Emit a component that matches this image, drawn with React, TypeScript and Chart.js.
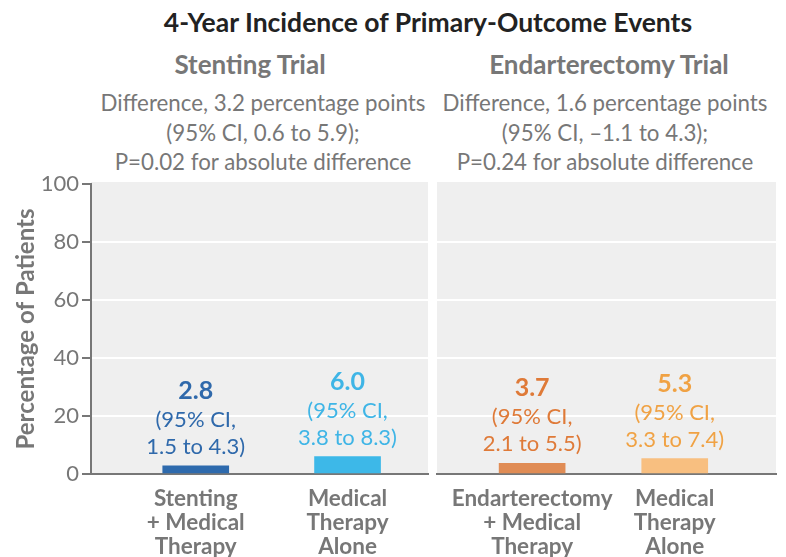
import React, { useEffect, useRef } from "react";
import { Chart, registerables } from "chart.js";

Chart.register(...registerables);

const FONT = "Lato, 'Open Sans', sans-serif";

const chartTitle = "4-Year Incidence of Primary-Outcome Events";
const panelTitles = ["Stenting Trial", "Endarterectomy Trial"];
const panelNotes = [
  ["Difference, 3.2 percentage points", "(95% CI, 0.6 to 5.9);", "P=0.02 for absolute difference"],
  ["Difference, 1.6 percentage points", "(95% CI, \u20131.1 to 4.3);", "P=0.24 for absolute difference"],
];
const yAxisTitle = "Percentage of Patients";
const yTicks = [0, 20, 40, 60, 80, 100];

const stentCategories = [["Stenting", "+ Medical", "Therapy"], ["Medical", "Therapy", "Alone"]];
const stentValues = [2.8, 6.0];
const stentCILow = [1.5, 3.8];
const stentCIHigh = [4.3, 8.3];

const endCategories = [["Endarterectomy", "+ Medical", "Therapy"], ["Medical", "Therapy", "Alone"]];
const endValues = [3.7, 5.3];
const endCILow = [2.1, 3.3];
const endCIHigh = [5.5, 7.4];

const stentBarColors = ["#2e6aad", "#3db8e8"];
const stentTextColors = ["#2f69ab", "#3fb5e6"];
const endBarColors = ["#e08c55", "#f8bf80"];
const endTextColors = ["#df7a38", "#f0a244"];

const GREY = "#777777";

const panelBg = {
  id: "panelBg",
  beforeDraw(chart: any) {
    const { ctx, chartArea } = chart;
    ctx.save();
    ctx.fillStyle = "#efefef";
    ctx.fillRect(chartArea.left, chartArea.top - 2, chartArea.right - chartArea.left, chartArea.bottom - chartArea.top + 2);
    ctx.restore();
  },
};

function makeLabelPlugin(values: number[], lows: number[], highs: number[], colors: string[]) {
  return {
    id: "barLabels",
    afterDatasetsDraw(chart: any) {
      const { ctx } = chart;
      const meta = chart.getDatasetMeta(0);
      ctx.save();
      ctx.textAlign = "center";
      ctx.textBaseline = "middle";
      meta.data.forEach((el: any, i: number) => {
        const x = el.x;
        const top = el.y;
        ctx.fillStyle = colors[i];
        ctx.font = `bold 25px ${FONT}`;
        ctx.fillText(values[i].toFixed(1), x, top - 75);
        ctx.font = `22px ${FONT}`;
        ctx.fillText("(95% CI,", x, top - 46);
        ctx.fillText(`${lows[i].toFixed(1)} to ${highs[i].toFixed(1)})`, x, top - 19);
      });
      ctx.restore();
    },
  };
}

function Panel(props: {
  categories: string[][];
  values: number[];
  lows: number[];
  highs: number[];
  barColors: string[];
  textColors: string[];
  showY: boolean;
  xMin: number;
  xMax: number;
  padLeft: number;
  padRight: number;
}) {
  const ref = useRef<HTMLCanvasElement | null>(null);
  useEffect(() => {
    if (!ref.current) return;
    const p = props;
    const gridColor = (ctx: any) =>
      ctx.tick && (ctx.tick.value === 0 || ctx.tick.value === 100) ? "rgba(0,0,0,0)" : "#ffffff";
    const chart = new Chart(ref.current, {
      type: "bar",
      data: {
        datasets: [
          {
            data: p.values.map((v, i) => ({ x: i, y: v })),
            backgroundColor: p.barColors,
            barThickness: 66,
            borderWidth: 0,
          },
        ],
      },
      options: {
        animation: false,
        responsive: true,
        maintainAspectRatio: false,
        layout: { padding: { top: 184, left: p.padLeft, right: p.padRight, bottom: 0 } },
        plugins: { legend: { display: false }, tooltip: { enabled: false }, title: { display: false } },
        scales: {
          x: {
            type: "linear",
            offset: false,
            min: p.xMin,
            max: p.xMax,
            grid: { display: false },
            border: { display: true, color: GREY, width: 2 },
            afterBuildTicks: (scale: any) => {
              scale.ticks = p.categories.map((_, i) => ({ value: i }));
            },
            afterFit: (scale: any) => {
              scale.height = 83;
            },
            ticks: {
              autoSkip: false,
              maxRotation: 0,
              padding: 5,
              color: GREY,
              font: { family: FONT, size: 22.5, weight: "bold", lineHeight: 1.067 },
              callback: (v: any) => p.categories[v] ?? "",
            },
          },
          y: {
            min: 0,
            max: 100,
            afterBuildTicks: (scale: any) => {
              scale.ticks = yTicks.map((v) => ({ value: v }));
            },
            afterFit: (scale: any) => {
              scale.width = p.showY ? 91 : 0;
            },
            grid: {
              color: gridColor,
              lineWidth: 2,
              drawTicks: p.showY,
              tickLength: 9,
              tickColor: GREY,
              tickWidth: 2,
            },
            border: { display: p.showY, color: GREY, width: 2 },
            title: {
              display: p.showY,
              text: yAxisTitle,
              color: GREY,
              font: { family: FONT, size: 24, weight: "bold" },
              padding: { top: 12, bottom: 0 },
            },
            ticks: {
              display: p.showY,
              padding: 3,
              color: GREY,
              font: { family: FONT, size: 22 },
            },
          },
        },
      } as any,
      plugins: [panelBg, makeLabelPlugin(p.values, p.lows, p.highs, p.textColors)],
    });
    return () => chart.destroy();
  }, []);
  return <canvas ref={ref} />;
}

export default function App() {
  const textBase: React.CSSProperties = {
    position: "absolute",
    textAlign: "center",
    fontFamily: FONT,
    whiteSpace: "nowrap",
  };
  const noteCenters = [263, 605];
  const titleCenters = [250, 609];
  return (
    <div style={{ position: "absolute", left: 0, top: 0, width: 786, height: 557, background: "#fff", overflow: "hidden" }}>
      <div style={{ ...textBase, left: 428 - 350, width: 700, top: 6, fontSize: 26.5, lineHeight: "32px", fontWeight: 700, color: "#222" }}>
        {chartTitle}
      </div>
      {panelTitles.map((t, i) => (
        <div key={t} style={{ ...textBase, left: titleCenters[i] - 175, width: 350, top: 48, fontSize: 26, lineHeight: "32px", fontWeight: 700, color: GREY }}>
          {t}
        </div>
      ))}
      {panelNotes.map((lines, i) => (
        <div key={i} style={{ ...textBase, left: noteCenters[i] - 180, width: 360, top: 88, fontSize: 22.3, lineHeight: "29.5px", color: GREY }}>
          {lines.map((l) => (
            <div key={l}>{l}</div>
          ))}
        </div>
      ))}
      <div style={{ position: "absolute", left: 0, top: 0, width: 432, height: 557 }}>
        <Panel
          categories={stentCategories}
          values={stentValues}
          lows={stentCILow}
          highs={stentCIHigh}
          barColors={stentBarColors}
          textColors={stentTextColors}
          showY={true}
          xMin={-0.69}
          xMax={1.53}
          padLeft={0}
          padRight={4}
        />
      </div>
      <div style={{ position: "absolute", left: 432, top: 0, width: 354, height: 557 }}>
        <Panel
          categories={endCategories}
          values={endValues}
          lows={endCILow}
          highs={endCIHigh}
          barColors={endBarColors}
          textColors={endTextColors}
          showY={false}
          xMin={-0.667}
          xMax={1.71}
          padLeft={5}
          padRight={10}
        />
      </div>
    </div>
  );
}
